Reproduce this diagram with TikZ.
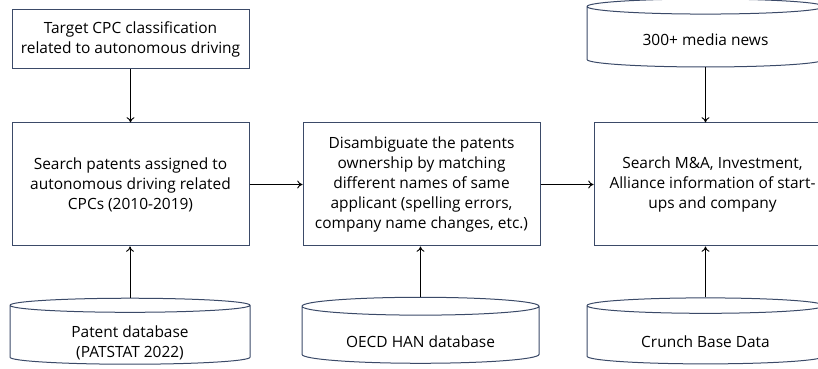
\documentclass[tikz,border=0pt]{standalone}
\usepackage{fontspec}
\newfontfamily\stepfamily{Open Sans}
\newcommand*{\stepfont}{\stepfamily\fontsize{11.6}{15}\selectfont}
\newcommand*{\lowered}[2]{\raisebox{-#1}[\height][\depth]{\begin{tabular}{@{}c@{}}#2\end{tabular}}}
\definecolor{edge}{HTML}{3B4A68}
\usepackage{tikz}
\usetikzlibrary{arrows.meta}
\usetikzlibrary{shapes.geometric}
\tikzstyle{task}=[draw=edge, line width=0.75pt, rectangle, align=center, inner sep=0pt, minimum width=177.75pt]
\tikzstyle{source}=[draw=edge, line width=0.75pt, cylinder, shape border rotate=90, aspect=0.12, align=center, inner sep=0pt, minimum width=177.75pt, minimum height=49.5pt]
\tikzstyle{flow}=[-{To[length=4pt, width=6pt]}, black, line width=0.7pt]

\begin{document}
\begin{tikzpicture}[x=0.75pt, y=0.75pt]
    \stepfont
        \path [use as bounding box] (0,0) rectangle (818,368);
        \node [task, minimum height=44.25pt] (target) at (130.5,328.5) {Target CPC classification\\related to autonomous driving};
        \node [task, minimum height=92.25pt] (search) at (130.5,183.5) {Search patents assigned to\\autonomous driving related\\CPCs (2010-2019)};
        \node [task, minimum height=92.25pt] (disamb) at (421.5,183.5) {Disambiguate the patents\\ownership by matching\\different names of same\\applicant (spelling errors,\\company name changes, etc.)};
        \node [task, minimum height=92.25pt] (mna) at (712.5,183.5) {Search M\&A, Investment,\\Alliance information of start-\\ups and company};
        \node [source, minimum height=51pt] (media) at (705.5,331) {\lowered{3.5pt}{300+ media news}};
        \node [source, minimum width=180pt] (patstat) at (130,33) {\lowered{6.5pt}{Patent database\\(PATSTAT 2022)}};
        \node [source] (han) at (420.5,33) {\lowered{6.5pt}{OECD HAN database}};
        \node [source] (crunch) at (705.5,33) {\lowered{6.5pt}{Crunch Base Data}};
        \draw [flow] (target.south) -- (search.north);
        \draw [flow] (search.east) -- (disamb.west);
        \draw [flow] (disamb.east) -- (mna.west);
        \draw [flow] (media.south) -- (media.south |- mna.north);
        \draw [flow] (patstat.north) -- (patstat.north |- search.south);
        \draw [flow] (han.north) -- (han.north |- disamb.south);
        \draw [flow] (crunch.north) -- (crunch.north |- mna.south);
    \end{tikzpicture}
\end{document}
